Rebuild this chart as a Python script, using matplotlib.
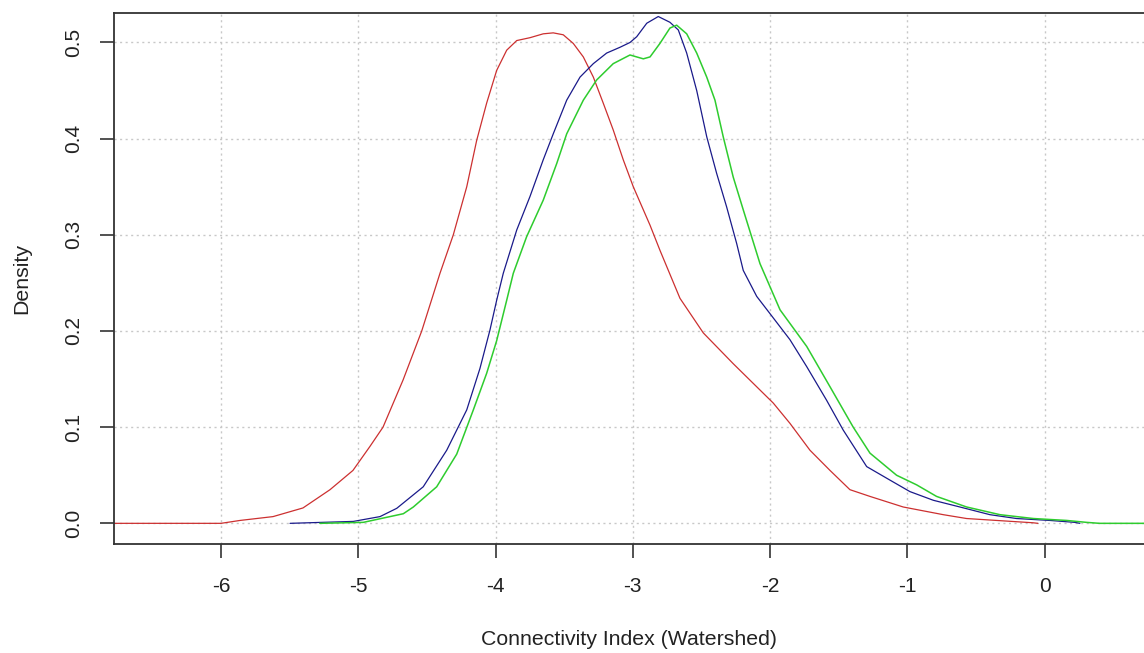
import matplotlib
matplotlib.use("Agg")
import matplotlib.pyplot as plt

plt.rcParams['font.family'] = ['Liberation Sans', 'DejaVu Sans']

# density curves (x = connectivity index, y = density)
red_x = [-6.8, -6.0, -5.862, -5.621, -5.403, -5.206, -5.039, -4.915, -4.820, -4.674,
         -4.538, -4.405, -4.308, -4.210, -4.138, -4.065, -3.992, -3.919, -3.846, -3.749,
         -3.653, -3.580, -3.507, -3.434, -3.361, -3.288, -3.216, -3.143, -3.070, -2.997,
         -2.875, -2.803, -2.657, -2.487, -2.269, -1.977, -1.856, -1.710, -1.564, -1.419,
         -1.273, -1.031, -0.739, -0.569, -0.350, -0.086, -0.05]
red_y = [0.0, 0.0, 0.003, 0.007, 0.016, 0.035, 0.055, 0.080, 0.100, 0.149,
         0.200, 0.260, 0.300, 0.350, 0.398, 0.437, 0.471, 0.492, 0.502, 0.505,
         0.509, 0.510, 0.508, 0.499, 0.485, 0.464, 0.437, 0.409, 0.378, 0.350,
         0.310, 0.284, 0.234, 0.198, 0.166, 0.125, 0.104, 0.076, 0.055, 0.035,
         0.028, 0.017, 0.009, 0.005, 0.003, 0.0006, 0.0]

blue_x = [-5.497, -5.036, -4.842, -4.720, -4.527, -4.356, -4.210, -4.114, -4.041, -3.992,
          -3.944, -3.846, -3.749, -3.653, -3.580, -3.482, -3.385, -3.288, -3.191, -3.094,
          -3.021, -2.972, -2.899, -2.815, -2.730, -2.669, -2.608, -2.535, -2.462, -2.390,
          -2.317, -2.244, -2.196, -2.098, -2.001, -1.856, -1.734, -1.589, -1.468, -1.297,
          -1.128, -0.982, -0.812, -0.618, -0.399, -0.205, 0.038, 0.220, 0.256]
blue_y = [0.0, 0.002, 0.007, 0.0156, 0.038, 0.076, 0.118, 0.161, 0.201, 0.232,
          0.260, 0.305, 0.340, 0.378, 0.405, 0.440, 0.464, 0.478, 0.489, 0.495,
          0.500, 0.506, 0.520, 0.527, 0.521, 0.513, 0.489, 0.450, 0.402, 0.364,
          0.329, 0.291, 0.263, 0.236, 0.218, 0.191, 0.163, 0.128, 0.097, 0.059,
          0.045, 0.033, 0.024, 0.017, 0.009, 0.005, 0.003, 0.001, 0.0]

green_x = [-5.28, -4.964, -4.672, -4.599, -4.429, -4.283, -4.162, -4.065, -3.992, -3.919,
           -3.871, -3.774, -3.653, -3.555, -3.482, -3.361, -3.264, -3.143, -3.021, -2.924,
           -2.875, -2.803, -2.730, -2.681, -2.608, -2.535, -2.462, -2.402, -2.342, -2.269,
           -2.196, -2.098, -2.074, -1.928, -1.734, -1.564, -1.395, -1.273, -1.079, -0.933,
           -0.788, -0.569, -0.326, -0.083, 0.160, 0.305, 0.40, 0.80]
green_y = [0.0, 0.001, 0.010, 0.017, 0.038, 0.072, 0.118, 0.156, 0.190, 0.232,
           0.260, 0.298, 0.336, 0.374, 0.405, 0.440, 0.461, 0.478, 0.487, 0.483,
           0.485, 0.499, 0.515, 0.518, 0.509, 0.489, 0.464, 0.440, 0.402, 0.360,
           0.326, 0.281, 0.270, 0.222, 0.184, 0.142, 0.100, 0.073, 0.050, 0.040,
           0.028, 0.017, 0.009, 0.005, 0.003, 0.001, 0.0, 0.0]

x_ticks = [-6, -5, -4, -3, -2, -1, 0]
y_ticks = [0.0, 0.1, 0.2, 0.3, 0.4, 0.5]
y_ticklabels = ["0.0", "0.1", "0.2", "0.3", "0.4", "0.5"]

fig = plt.figure(figsize=(11.44, 6.53), dpi=100)
ax = fig.add_axes([0.0997, 0.1669, 0.9003, 0.8137])

line_kw = dict(solid_joinstyle='round', solid_capstyle='round')
ax.plot(red_x, red_y, color='#cc3030', lw=0.9, **line_kw)
ax.plot(blue_x, blue_y, color='#1a1a8a', lw=0.9, **line_kw)
ax.plot(green_x, green_y, color='#2ecc2e', lw=1.1, **line_kw)

ax.set_xlim(-6.779, 0.723)
ax.set_ylim(-0.0215, 0.531)

ax.set_xticks(x_ticks)
ax.set_xticklabels([str(t) for t in x_ticks])
ax.set_yticks(y_ticks)
ax.set_yticklabels(y_ticklabels, rotation=90, va='center')

ax.grid(True, color='#c8c8c8', linestyle=(0, (1.5, 2.5)), linewidth=1.0)
ax.set_axisbelow(True)

ax.spines['right'].set_visible(False)
for s in ['left', 'bottom', 'top']:
    ax.spines[s].set_color('#333333')
    ax.spines[s].set_linewidth(1.3)

ax.tick_params(axis='x', length=10, width=1.2, color='#333333',
               labelsize=15, labelcolor='#222222', pad=14)
ax.tick_params(axis='y', length=10, width=1.2, color='#333333',
               labelsize=15, labelcolor='#222222', pad=12)

ax.set_xlabel("Connectivity Index (Watershed)", fontsize=15.3, color='#222222', labelpad=24)
ax.set_ylabel("Density", fontsize=15.3, color='#222222', labelpad=24)

fig.savefig("out.png", dpi=100)
